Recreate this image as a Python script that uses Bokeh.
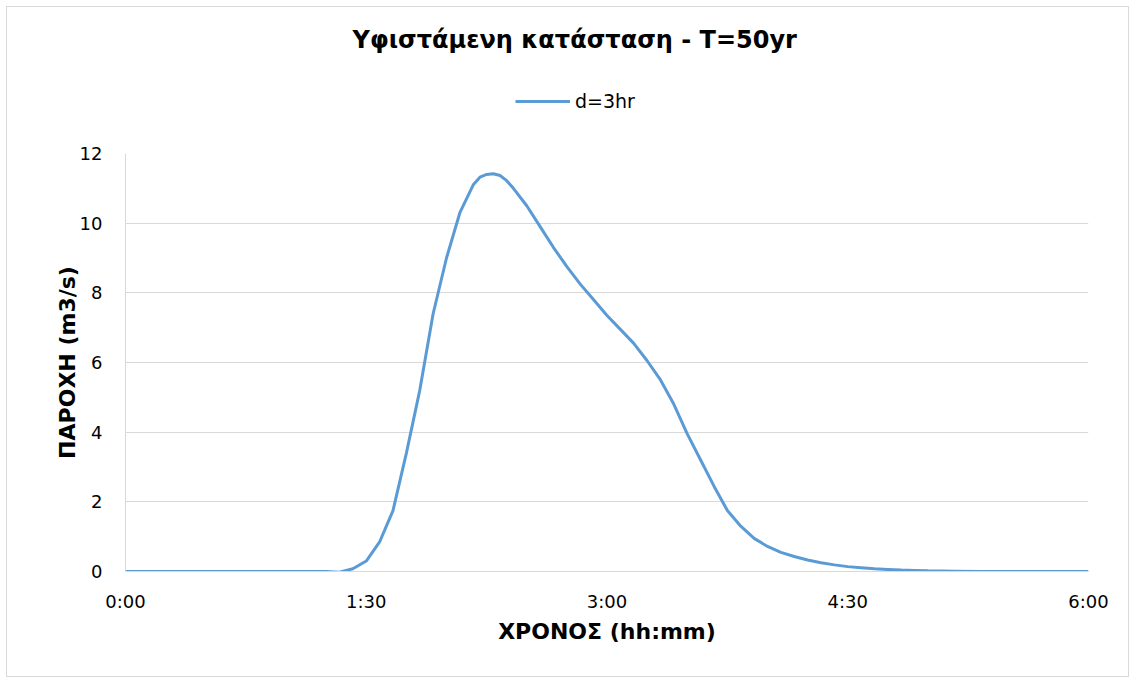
from bokeh.plotting import figure
from bokeh.layouts import column
from bokeh.models import FixedTicker, Legend, LegendItem
from bokeh.embed import file_html
from bokeh.resources import INLINE

# time in minutes
time_min = [0, 5, 10, 15, 20, 25, 30, 35, 40, 45, 50, 55, 60, 65, 70, 75, 80, 85,
            90, 95, 100, 105, 110, 115, 120, 125, 130, 132.5, 135, 137.5, 140, 142.5,
            145, 150, 155, 160, 165, 170, 175, 180, 185, 190, 195, 200, 205, 210, 215,
            220, 225, 230, 235, 240, 245, 250, 255, 260, 265, 270, 275, 280, 285, 290,
            295, 300, 310, 320, 330, 340, 350, 360]
flow = [0, 0, 0, 0, 0, 0, 0, 0, 0, 0, 0, 0, 0, 0, 0, 0, -0.02, 0.08,
        0.3, 0.85, 1.75, 3.4, 5.2, 7.4, 9.0, 10.3, 11.1, 11.32, 11.4, 11.42, 11.37, 11.22,
        11.0, 10.5, 9.9, 9.3, 8.75, 8.25, 7.8, 7.35, 6.95, 6.55, 6.05, 5.5, 4.8, 3.95, 3.2,
        2.45, 1.75, 1.3, 0.95, 0.72, 0.55, 0.43, 0.33, 0.25, 0.19, 0.14, 0.11, 0.08, 0.06, 0.04,
        0.03, 0.02, 0.01, 0, 0, 0, 0, 0]
x_ticks = [0, 90, 180, 270, 360]
x_tick_labels = ["0:00", "1:30", "3:00", "4:30", "6:00"]
y_ticks = [0, 2, 4, 6, 8, 10, 12]

FONT = "DejaVu Sans"
BLUE = "#5B9BD5"
W = 1121
NAN = float("nan")

# header: title + legend
top = figure(width=W, height=137, output_backend="svg", toolbar_location=None,
             x_range=(0, 1), y_range=(0, 1), x_axis_type=None, y_axis_type=None,
             min_border_left=0, min_border_right=0, min_border_bottom=0, min_border_top=46)
top.outline_line_color = None
top.xgrid.grid_line_color = None
top.ygrid.grid_line_color = None
top.title.text = "Υφιστάμενη κατάσταση - T=50yr"
top.title.align = "left"
top.title.offset = 227
top.title.text_font = FONT
top.title.text_font_size = "24px"
top.title.text_font_style = "bold"
top.title.text_color = "#000000"
top.title.standoff = 0
legend_line = top.line([NAN], [NAN], line_color=BLUE, line_width=3)
legend = Legend(items=[LegendItem(label="d=3hr", renderers=[legend_line])], orientation="horizontal",
                location=(390, 32), border_line_color=None, background_fill_alpha=0,
                label_text_font=FONT, label_text_font_size="19px", label_text_color="#000000",
                glyph_width=55, glyph_height=20, label_height=20, label_standoff=5,
                margin=0, padding=0)
top.add_layout(legend, "center")

p = figure(width=W, height=532, output_backend="svg", toolbar_location=None,
           x_range=(0, 360), y_range=(0, 12),
           min_border_left=118, min_border_right=40, min_border_bottom=105, min_border_top=9)
p.outline_line_color = None

p.line(time_min, flow, line_color=BLUE, line_width=3)

p.xaxis.ticker = FixedTicker(ticks=x_ticks)
p.xaxis.major_label_overrides = {t: l for t, l in zip(x_ticks, x_tick_labels)}
p.yaxis.ticker = FixedTicker(ticks=y_ticks)
for ax in (p.xaxis, p.yaxis):
    ax.major_tick_line_color = None
    ax.minor_tick_line_color = None
    ax.axis_line_color = "#d9d9d9"
    ax.major_label_text_font = FONT
    ax.major_label_text_font_size = "18px"
    ax.major_label_text_color = "#000000"
    ax.axis_label_text_font = FONT
    ax.axis_label_text_font_size = "22px"
    ax.axis_label_text_font_style = "bold"
    ax.axis_label_text_color = "#000000"
p.xaxis.major_label_standoff = 13
p.yaxis.major_label_standoff = 17
p.xaxis.axis_label = "ΧΡΟΝΟΣ (hh:mm)"
p.yaxis.axis_label = "ΠΑΡΟΧΗ (m3/s)"
p.xaxis.axis_label_standoff = 4
p.yaxis.axis_label_standoff = -3

p.xgrid.grid_line_color = None
p.ygrid.grid_line_color = "#d9d9d9"
p.ygrid.grid_line_width = 1

layout = column(top, p, spacing=0, margin=(6, 0, 0, 6),
                styles={"border": "1px solid #d9d9d9"})

open("out.html", "w").write(file_html(layout, INLINE))
